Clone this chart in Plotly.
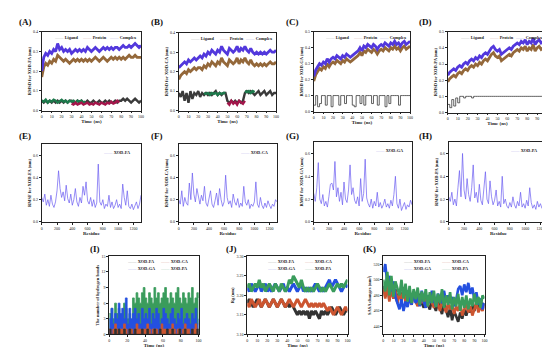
import plotly.graph_objects as go

W, H = 550, 347
FONT = "Liberation Serif"

# ---------------- data ----------------
time_max = 100
# Panel A  (XOD-FA RMSD, nm), sampled every 2 ns
A_complex = [0.20,0.27,0.29,0.28,0.30,0.29,0.31,0.30,0.34,0.31,0.32,0.30,0.31,0.30,0.31,0.29,0.30,0.31,0.30,0.31,0.30,0.31,0.30,0.32,0.31,0.30,0.31,0.32,0.31,0.30,0.31,0.32,0.31,0.32,0.31,0.32,0.31,0.32,0.32,0.31,0.32,0.33,0.32,0.32,0.33,0.32,0.33,0.34,0.33,0.32,0.33]
A_protein = [0.17,0.22,0.24,0.23,0.25,0.24,0.26,0.25,0.28,0.27,0.26,0.25,0.26,0.25,0.24,0.25,0.26,0.25,0.26,0.25,0.26,0.25,0.26,0.25,0.26,0.25,0.26,0.27,0.26,0.25,0.26,0.27,0.26,0.25,0.26,0.27,0.26,0.27,0.26,0.27,0.26,0.27,0.26,0.27,0.28,0.27,0.27,0.28,0.27,0.27,0.27]
A_ligand = [0.05,0.04,0.05,0.04,0.05,0.04,0.05,0.04,0.05,0.04,0.05,0.04,0.05,0.04,0.05,0.05,0.04,0.04,0.05,0.04,0.05,0.04,0.04,0.05,0.04,0.04,0.05,0.04,0.04,0.05,0.04,0.04,0.05,0.04,0.05,0.04,0.04,0.05,0.04,0.05,0.05,0.06,0.05,0.06,0.05,0.04,0.05,0.06,0.05,0.04,0.05]
A_lig_green_t = [0,2,4,6,8,10,12,14,16,18,20,22,24,26,28,30,32,34,36,38,40,42,44]
A_lig_green = [0.05,0.045,0.055,0.04,0.05,0.045,0.055,0.05,0.04,0.05,0.055,0.045,0.05,0.04,0.05,0.045,0.05,0.04,0.05,0.045,0.05,0.04,0.045]
A_lig_red_t = [30,32,34,36,38,40,42,44,46,48,50,52,54,56,58,60,62,64,66,68,70,72,74,76,78]
A_lig_red = [0.035,0.03,0.04,0.03,0.035,0.04,0.03,0.035,0.04,0.03,0.035,0.03,0.04,0.035,0.03,0.04,0.035,0.03,0.04,0.035,0.045,0.035,0.04,0.05,0.04]

B_complex = [0.22,0.23,0.24,0.25,0.24,0.26,0.25,0.26,0.27,0.26,0.27,0.28,0.27,0.29,0.28,0.30,0.29,0.31,0.30,0.29,0.31,0.30,0.33,0.31,0.30,0.29,0.32,0.31,0.30,0.31,0.33,0.30,0.32,0.31,0.33,0.31,0.30,0.32,0.30,0.29,0.30,0.29,0.30,0.29,0.30,0.29,0.30,0.31,0.30,0.30,0.31]
B_protein = [0.16,0.18,0.19,0.20,0.19,0.21,0.20,0.21,0.22,0.21,0.22,0.22,0.21,0.23,0.22,0.24,0.23,0.25,0.24,0.23,0.25,0.24,0.27,0.25,0.24,0.23,0.26,0.25,0.24,0.25,0.27,0.24,0.26,0.25,0.27,0.25,0.24,0.26,0.24,0.23,0.24,0.23,0.24,0.23,0.24,0.23,0.24,0.25,0.24,0.24,0.25]
B_ligand = [0.09,0.07,0.10,0.05,0.09,0.04,0.10,0.06,0.09,0.08,0.10,0.07,0.09,0.08,0.09,0.08,0.09,0.08,0.09,0.10,0.08,0.09,0.08,0.09,0.09,0.05,0.04,0.05,0.04,0.05,0.04,0.05,0.04,0.05,0.09,0.10,0.09,0.10,0.09,0.08,0.09,0.10,0.08,0.09,0.10,0.08,0.09,0.10,0.08,0.09,0.09]
B_lig_green_t = [26,28,30,32,34,36,38,40,42,44,46,48,None,68,70,72,74,76,78]
B_lig_green = [0.09,0.085,0.09,0.08,0.09,0.085,0.09,0.08,0.09,0.085,0.09,0.09,None,0.10,0.095,0.10,0.09,0.10,0.095]
B_lig_red_t = [50,52,54,56,58,60,62,64,66,68]
B_lig_red = [0.04,0.03,0.05,0.035,0.045,0.03,0.05,0.04,0.035,0.05]

C_complex = [0.22,0.26,0.28,0.30,0.29,0.31,0.30,0.33,0.31,0.33,0.34,0.33,0.35,0.34,0.33,0.35,0.34,0.36,0.35,0.34,0.35,0.36,0.37,0.38,0.40,0.38,0.41,0.40,0.42,0.41,0.40,0.42,0.41,0.39,0.41,0.42,0.41,0.43,0.42,0.41,0.43,0.42,0.44,0.42,0.43,0.41,0.43,0.44,0.42,0.43,0.44]
C_protein = [0.19,0.23,0.25,0.27,0.26,0.28,0.27,0.30,0.28,0.30,0.31,0.30,0.32,0.31,0.30,0.32,0.31,0.33,0.32,0.31,0.32,0.33,0.34,0.35,0.37,0.35,0.38,0.37,0.39,0.38,0.37,0.39,0.38,0.36,0.38,0.39,0.38,0.40,0.39,0.38,0.40,0.39,0.41,0.39,0.40,0.38,0.40,0.41,0.39,0.40,0.41]
C_ligand = [0.04,0.10,0.03,0.05,0.10,0.10,0.04,0.10,0.10,0.03,0.10,0.10,0.10,0.04,0.10,0.10,0.05,0.10,0.10,0.10,0.04,0.03,0.10,0.10,0.05,0.10,0.04,0.10,0.10,0.10,0.05,0.10,0.10,0.04,0.10,0.10,0.10,0.03,0.10,0.05,0.10,0.10,0.10,0.10,0.04,0.10,0.10,0.10,0.10,0.10,0.10]

D_complex = [0.23,0.25,0.26,0.27,0.26,0.28,0.29,0.28,0.30,0.31,0.30,0.32,0.33,0.32,0.34,0.33,0.35,0.34,0.36,0.37,0.36,0.38,0.40,0.41,0.39,0.38,0.39,0.36,0.37,0.38,0.39,0.40,0.39,0.41,0.42,0.43,0.42,0.44,0.43,0.45,0.42,0.44,0.43,0.46,0.42,0.44,0.45,0.43,0.44,0.42,0.41]
D_protein = [0.19,0.21,0.22,0.23,0.22,0.24,0.25,0.24,0.26,0.27,0.26,0.28,0.29,0.28,0.30,0.29,0.31,0.30,0.32,0.33,0.32,0.34,0.36,0.37,0.35,0.34,0.35,0.32,0.33,0.34,0.35,0.36,0.35,0.37,0.38,0.39,0.38,0.40,0.39,0.41,0.38,0.40,0.39,0.42,0.38,0.40,0.41,0.39,0.40,0.38,0.37]
D_ligand = [0.05,0.03,0.08,0.04,0.09,0.06,0.10,0.10,0.09,0.10,0.10,0.10,0.09,0.10,0.10,0.10,0.10,0.10,0.10,0.10,0.10,0.10,0.10,0.10,0.10,0.10,0.10,0.10,0.10,0.10,0.10,0.10,0.10,0.10,0.10,0.10,0.10,0.10,0.10,0.10,0.10,0.10,0.10,0.10,0.10,0.10,0.10,0.10,0.10,0.10,0.10]

# RMSF (nm), residues sampled every 20
E_rmsf = [0.22,0.18,0.25,0.15,0.20,0.14,0.24,0.16,0.13,0.18,0.28,0.46,0.30,0.22,0.27,0.19,0.33,0.21,0.17,0.25,0.15,0.20,0.30,0.18,0.14,0.22,0.17,0.32,0.24,0.36,0.19,0.16,0.22,0.14,0.20,0.13,0.17,0.52,0.18,0.15,0.20,0.12,0.16,0.14,0.24,0.13,0.18,0.12,0.15,0.20,0.13,0.16,0.12,0.34,0.22,0.15,0.28,0.14,0.12,0.16,0.11,0.14,0.18,0.12,0.16,0.24]
F_rmsf = [0.20,0.16,0.28,0.14,0.22,0.17,0.15,0.35,0.20,0.44,0.25,0.18,0.30,0.21,0.16,0.24,0.19,0.32,0.17,0.14,0.22,0.28,0.16,0.13,0.19,0.26,0.15,0.30,0.20,0.14,0.18,0.42,0.22,0.16,0.19,0.13,0.25,0.18,0.15,0.21,0.13,0.17,0.14,0.32,0.18,0.15,0.20,0.12,0.16,0.14,0.18,0.36,0.16,0.13,0.22,0.15,0.12,0.17,0.13,0.19,0.15,0.12,0.16,0.14,0.20,0.18]
G_rmsf = [0.25,0.18,0.30,0.52,0.20,0.16,0.24,0.14,0.18,0.13,0.22,0.33,0.34,0.28,0.53,0.22,0.30,0.18,0.26,0.15,0.35,0.20,0.17,0.28,0.50,0.24,0.30,0.19,0.16,0.22,0.14,0.38,0.18,0.25,0.55,0.21,0.16,0.13,0.20,0.12,0.18,0.14,0.26,0.13,0.17,0.12,0.15,0.20,0.13,0.16,0.12,0.19,0.14,0.24,0.40,0.16,0.12,0.20,0.10,0.14,0.17,0.11,0.15,0.13,0.19,0.15]
H_rmsf = [0.22,0.18,0.26,0.15,0.20,0.14,0.30,0.45,0.22,0.60,0.28,0.20,0.38,0.24,0.18,0.30,0.50,0.21,0.26,0.17,0.33,0.19,0.15,0.27,0.44,0.20,0.16,0.36,0.22,0.15,0.19,0.28,0.14,0.18,0.13,0.40,0.16,0.20,0.14,0.12,0.17,0.13,0.22,0.15,0.12,0.18,0.14,0.26,0.13,0.16,0.12,0.19,0.14,0.30,0.17,0.12,0.15,0.11,0.18,0.13,0.16,0.12,0.14,0.20,0.15,0.13]
residue_max = 1300

# Hydrogen bonds
I_FA = [1,0,0,1,0,1,0,0,1,0,0,1,0,0,1,0,0,0,1,0,0,1,0,0,0,1,0,0,1,0,0,0,1,0,0,1,0,0,0,1,0,0,1,0,0,0,1,0,0,1,0]
I_CA = [1,0,1,2,1,0,1,1,2,1,0,1,1,0,1,2,1,1,0,1,1,2,1,0,1,1,1,0,1,2,1,1,0,1,1,2,1,0,1,1,0,1,2,1,1,0,1,1,2,1,1]
I_GA = [3,5,2,4,3,6,4,5,3,7,2,5,3,4,5,3,4,2,5,3,4,3,5,2,4,3,5,4,2,3,5,4,3,2,4,5,3,2,4,3,5,2,3,4,3,2,4,3,5,2,3]
I_PA = [4,5,3,6,4,5,3,4,6,5,3,4,2,7,6,8,7,6,8,9,7,6,8,7,6,9,7,8,6,7,8,9,7,6,8,7,6,8,9,7,6,8,7,6,8,7,9,6,7,8,7]

# Radius of gyration (nm)
J_FA = [3.18,3.19,3.18,3.17,3.18,3.19,3.18,3.17,3.18,3.19,3.18,3.17,3.18,3.19,3.18,3.17,3.18,3.19,3.18,3.17,3.18,3.17,3.18,3.17,3.16,3.15,3.16,3.15,3.16,3.15,3.16,3.14,3.16,3.15,3.16,3.15,3.14,3.16,3.15,3.16,3.15,3.16,3.17,3.16,3.15,3.16,3.17,3.16,3.15,3.16,3.16]
J_CA = [3.18,3.17,3.19,3.18,3.17,3.18,3.19,3.17,3.18,3.19,3.18,3.17,3.18,3.19,3.18,3.17,3.18,3.19,3.18,3.17,3.18,3.19,3.18,3.17,3.18,3.19,3.18,3.17,3.18,3.19,3.18,3.17,3.18,3.17,3.18,3.17,3.18,3.17,3.18,3.17,3.16,3.17,3.16,3.15,3.16,3.17,3.16,3.15,3.16,3.17,3.16]
J_GA = [3.22,3.21,3.23,3.22,3.21,3.22,3.23,3.21,3.22,3.23,3.21,3.22,3.21,3.22,3.23,3.22,3.21,3.22,3.23,3.21,3.22,3.21,3.22,3.23,3.22,3.21,3.22,3.23,3.21,3.22,3.21,3.22,3.21,3.22,3.23,3.22,3.21,3.22,3.21,3.22,3.23,3.24,3.22,3.23,3.24,3.23,3.22,3.21,3.22,3.23,3.22]
J_PA = [3.22,3.23,3.21,3.22,3.23,3.22,3.24,3.22,3.23,3.21,3.22,3.23,3.22,3.21,3.23,3.22,3.21,3.23,3.22,3.21,3.22,3.24,3.23,3.25,3.24,3.23,3.22,3.24,3.22,3.21,3.22,3.21,3.22,3.21,3.22,3.23,3.22,3.21,3.22,3.21,3.22,3.23,3.22,3.21,3.22,3.23,3.22,3.23,3.22,3.23,3.24]

# SASA (nm^2)
K_FA = [492,478,496,474,490,476,488,470,486,474,490,472,486,476,470,484,472,468,482,470,464,478,468,462,474,466,460,472,464,456,470,462,452,464,448,460,454,446,458,450,462,454,464,458,468,460,472,462,474,466,470]
K_CA = [488,476,494,472,490,476,486,470,484,474,488,470,482,474,468,482,472,466,480,470,482,472,466,478,470,464,476,468,460,474,466,458,470,462,468,456,466,460,470,454,462,470,458,466,454,462,470,458,466,460,468]
K_GA = [510,520,495,505,485,498,478,470,462,475,460,472,465,478,468,484,470,480,466,486,472,464,480,470,486,474,466,482,476,470,486,472,480,470,478,466,474,488,492,480,494,484,496,482,490,474,484,468,476,462,470]
K_PA = [500,485,510,480,505,478,498,490,480,500,476,495,472,492,470,488,475,490,468,485,472,488,466,484,470,486,465,482,470,488,464,480,468,484,462,478,466,482,460,478,464,480,462,476,466,482,468,478,464,480,476]

# ---------------- styling ----------------
C_COMPLEX = "#5238dc"
C_PROTEIN = "#94683a"
C_LIGAND = "#3a3a3a"
C_LGREEN = "#1d7a4c"
C_LRED = "#a3154a"
C_RMSF = "#6a5cf0"
SER = {"FA": "#333333", "CA": "#cc5530", "GA": "#2450e0", "PA": "#3a9c5c"}


def dx(a, b):
    return [a / W, b / W]


def dy(a, b):
    return [1 - b / H, 1 - a / H]


def times(vals, tmax=time_max):
    n = len(vals)
    return [i * tmax / (n - 1) for i in range(n)]


fig = go.Figure()
annotations = []

panels = [
    ("A", (33, 133), (21, 101), [0, 100], [0, 0.4], 10, [0, 0.1, 0.2, 0.3, 0.4], ".1f", "RMSD for XOD-FA (nm)", "Time (ns)", (8, 11)),
    ("B", (171, 269), (22, 101), [0, 100], [0, 0.4], 10, [0, 0.1, 0.2, 0.3, 0.4], ".1f", "RMSD for XOD-CA (nm)", "Time (ns)", (141, 11)),
    ("C", (307, 404), (21, 102), [0, 100], [0, 0.5], 10, [0, 0.1, 0.2, 0.3, 0.4, 0.5], ".1f", "RMSD for XOD-GA (nm)", "Time (ns)", (277, 11)),
    ("D", (442, 542), (21, 103), [0, 100], [0, 0.5], 10, [0, 0.1, 0.2, 0.3, 0.4, 0.5], ".1f", "RMSD for XOD-PA (nm)", "Time (ns)", (411, 11)),
    ("E", (33, 133), (135, 214), [0, 1300], [0, 0.7], 200, [0, 0.2, 0.4, 0.6], ".1f", "RMSF for XOD-FA (nm)", "Residue", (8, 127)),
    ("F", (171, 270), (135, 214), [0, 1300], [0, 0.7], 200, [0, 0.2, 0.4, 0.6], ".1f", "RMSF for XOD-CA (nm)", "Residue", (141, 127)),
    ("G", (307, 406), (133, 214), [0, 1300], [0, 0.7], 200, [0, 0.2, 0.4, 0.6], ".1f", "RMSF for XOD-GA (nm)", "Residue", (277, 127)),
    ("H", (443, 543), (133, 214), [0, 1300], [0, 0.7], 200, [0, 0.2, 0.4, 0.6], ".1f", "RMSF for XOD-PA (nm)", "Residue", (411, 127)),
    ("I", (101, 191), (249, 328), [0, 100], [0, 15], 20, [0, 3, 6, 9, 12, 15], "d", "The number of hydrogen bonds", "Time (ns)", (80, 241)),
    ("J", (240, 341), (249, 328), [0, 100], [3.10, 3.30], 10, [3.10, 3.15, 3.20, 3.25, 3.30], ".2f", "Rg (nm)", "Time (ns)", (217, 241)),
    ("K", (377, 479), (249, 328), [0, 100], [430, 530], 10, [440, 460, 480, 500, 520], "d", "SASA changes (nm²)", "Time (ns)", (355, 241)),
]

layout_axes = {}
axis_ids = {}
for i, (key, xp, yp, xr, yr, dtx, ytv, yfmt, ytitle, xtitle, lab) in enumerate(panels):
    n = i + 1
    xa = "xaxis" if n == 1 else f"xaxis{n}"
    ya = "yaxis" if n == 1 else f"yaxis{n}"
    xref = "x" if n == 1 else f"x{n}"
    yref = "y" if n == 1 else f"y{n}"
    axis_ids[key] = (xref, yref, xp, yp)
    common = dict(showline=True, linecolor="#222", linewidth=0.8, mirror=True,
                  ticks="outside", ticklen=2, tickwidth=0.6, tickcolor="#222",
                  showgrid=False, zeroline=False,
                  tickfont=dict(family=FONT, size=4, color="#222"))
    layout_axes[xa] = dict(common, domain=dx(*xp), anchor=yref, range=xr, dtick=dtx, tick0=0,
                           title=dict(text=f"<b>{xtitle}</b>", standoff=1,
                                      font=dict(family=FONT, size=5, color="#222")))
    layout_axes[ya] = dict(common, domain=dy(*yp), anchor=xref, range=yr, tickvals=ytv, tickformat=yfmt,
                           title=dict(text=f"<b>{ytitle}</b>", standoff=1,
                                      font=dict(family=FONT, size=4.5, color="#222")))
    annotations.append(dict(text=f"<b>({key})</b>", x=lab[0] / W, y=1 - lab[1] / H, xref="paper", yref="paper",
                            xanchor="left", yanchor="middle", showarrow=False,
                            font=dict(family=FONT, size=9, color="#111")))


def add_line(key, x, y, color, width, shape="linear", fill=None):
    xref, yref, _, _ = axis_ids[key]
    kw = {}
    if fill:
        kw = dict(fill="tozeroy", fillcolor=color)
    fig.add_trace(go.Scatter(x=x, y=y, mode="lines", line=dict(color=color, width=width, shape=shape),
                             xaxis=xref, yaxis=yref, showlegend=False, connectgaps=False,
                             hoverinfo="skip", **kw))


def legend_item(key, fx, fy, label, color, size=4.3):
    _, _, xp, yp = axis_ids[key]
    x = (xp[0] + fx * (xp[1] - xp[0])) / W
    y = 1 - (yp[0] + fy * (yp[1] - yp[0])) / H
    annotations.append(dict(text=f'<span style="color:{color}">——</span> <b>{label}</b>', x=x, y=y,
                            xref="paper", yref="paper", xanchor="left", yanchor="middle", showarrow=False,
                            font=dict(family=FONT, size=size, color="#222")))


# RMSD panels
rmsd = {
    "A": (A_complex, A_protein, A_ligand, [(A_lig_green_t, A_lig_green, C_LGREEN), (A_lig_red_t, A_lig_red, C_LRED)], 2.4),
    "B": (B_complex, B_protein, B_ligand, [(B_lig_green_t, B_lig_green, C_LGREEN), (B_lig_red_t, B_lig_red, C_LRED)], 2.4),
    "C": (C_complex, C_protein, C_ligand, [], 0.8),
    "D": (D_complex, D_protein, D_ligand, [], 0.8),
}
for key, (cpx, prt, lig, segs, lw) in rmsd.items():
    add_line(key, times(lig), lig, C_LIGAND, lw, "hv" if lw < 1 else "linear")
    for st, sv, sc in segs:
        add_line(key, st, sv, sc, 2.4)
    add_line(key, times(prt), prt, C_PROTEIN, 2.8)
    add_line(key, times(cpx), cpx, C_COMPLEX, 2.8)
    legend_item(key, 0.10, 0.07, "Ligand", "#b0b0b0")
    legend_item(key, 0.39, 0.07, "Protein", "#d0a8a8")
    legend_item(key, 0.66, 0.07, "Complex", "#b0a8d8")

# RMSF panels
for key, vals, name in [("E", E_rmsf, "XOD-FA"), ("F", F_rmsf, "XOD-CA"), ("G", G_rmsf, "XOD-GA"), ("H", H_rmsf, "XOD-PA")]:
    add_line(key, times(vals, residue_max), vals, C_RMSF, 0.7)
    legend_item(key, 0.60, 0.11, name, "#b0a8e8")

# H-bonds (filled steps)
for name, vals in [("PA", I_PA), ("GA", I_GA), ("CA", I_CA), ("FA", I_FA)]:
    add_line("I", times(vals), vals, SER[name], 0.8, "hv", fill=True)
# Rg, SASA
for key, data, w in [("J", (J_FA, J_CA, J_GA, J_PA), 3.0),
                     ("K", (K_FA, K_CA, K_GA, K_PA), 2.6)]:
    for name, vals in zip(["FA", "CA", "GA", "PA"], data):
        add_line(key, times(vals), vals, SER[name], w)
for key in ["I", "J", "K"]:
    legend_item(key, 0.18, 0.07, "XOD-FA", "#a0a0a0")
    legend_item(key, 0.55, 0.07, "XOD-CA", "#d8a090")
    legend_item(key, 0.18, 0.15, "XOD-GA", "#a0a0e8")
    legend_item(key, 0.55, 0.15, "XOD-PA", "#a0c8b0")

fig.update_layout(width=W, height=H, margin=dict(l=0, r=0, t=0, b=0),
                  paper_bgcolor="white", plot_bgcolor="white",
                  annotations=annotations, showlegend=False, **layout_axes)
fig.write_html("out.html")
